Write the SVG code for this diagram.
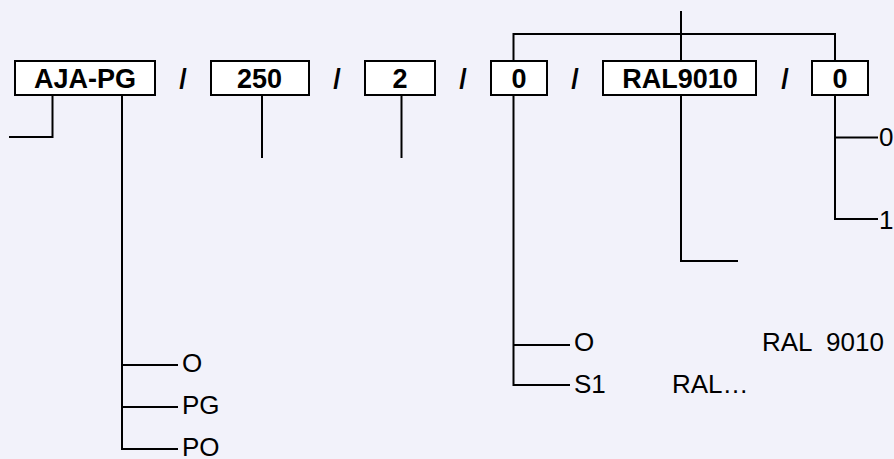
<svg xmlns="http://www.w3.org/2000/svg" width="894" height="459" viewBox="0 0 894 459">
<style>
.bg{fill:#f2f2fa}
.box{fill:#ffffff;stroke:#000;stroke-width:2}
.bt{font-family:"Liberation Sans",Arial,sans-serif;font-weight:bold;font-size:27px;fill:#000;text-anchor:middle}
.sl{font-family:"Liberation Sans",Arial,sans-serif;font-weight:bold;font-size:27px;fill:#000;text-anchor:middle}
.lt{font-family:"Liberation Sans",Arial,sans-serif;font-size:26px;fill:#000}
.ln{fill:none;stroke:#000;stroke-width:2}
</style>
<rect class="bg" x="0" y="0" width="894" height="459"/>
<g id="n-ajapg"><rect class="box" x="15" y="61" width="140" height="34"/><text class="bt" x="85" y="88">AJA-PG</text></g>
<g id="n-250"><rect class="box" x="211" y="61" width="98" height="34"/><text class="bt" x="259.5" y="88">250</text></g>
<g id="n-2"><rect class="box" x="365" y="61" width="70" height="34"/><text class="bt" x="400" y="88">2</text></g>
<g id="n-0a"><rect class="box" x="491" y="61" width="56" height="34"/><text class="bt" x="519" y="88">0</text></g>
<g id="n-ral"><rect class="box" x="603" y="61" width="153" height="34"/><text class="bt" x="680" y="88">RAL9010</text></g>
<g id="n-0b"><rect class="box" x="812" y="61" width="56" height="34"/><text class="bt" x="840" y="88">0</text></g>
<g id="slashes">
<text class="sl" x="183" y="88">/</text>
<text class="sl" x="337" y="88">/</text>
<text class="sl" x="463" y="88">/</text>
<text class="sl" x="575" y="88">/</text>
<text class="sl" x="785" y="88">/</text>
</g>
<g id="connectors">
<path class="ln" d="M52.5 95 V137 H9"/>
<path class="ln" d="M122 95 V449 H178 M122 365 H178 M122 407 H178"/>
<path class="ln" d="M262 95 V158"/>
<path class="ln" d="M401.5 95 V158"/>
<path class="ln" d="M513.5 95 V385 H570 M513.5 345 H570"/>
<path class="ln" d="M681 95 V261 H738"/>
<path class="ln" d="M835 95 V219 H878 M835 137.5 H878"/>
<path class="ln" d="M513.5 61 V34 H835 V61 M681 61 V11"/>
</g>
<g id="labels">
<text class="lt" x="182" y="372">O</text>
<text class="lt" x="182" y="414">PG</text>
<text class="lt" x="182" y="456">PO</text>
<text class="lt" x="574" y="351">O</text>
<text class="lt" x="574" y="392.5">S1</text>
<text class="lt" x="672" y="392.5">RAL…</text>
<text class="lt" x="762" y="351" xml:space="preserve">RAL  9010</text>
<text class="lt" x="879" y="145.5">0</text>
<text class="lt" x="879" y="229">1</text>
</g>
</svg>
